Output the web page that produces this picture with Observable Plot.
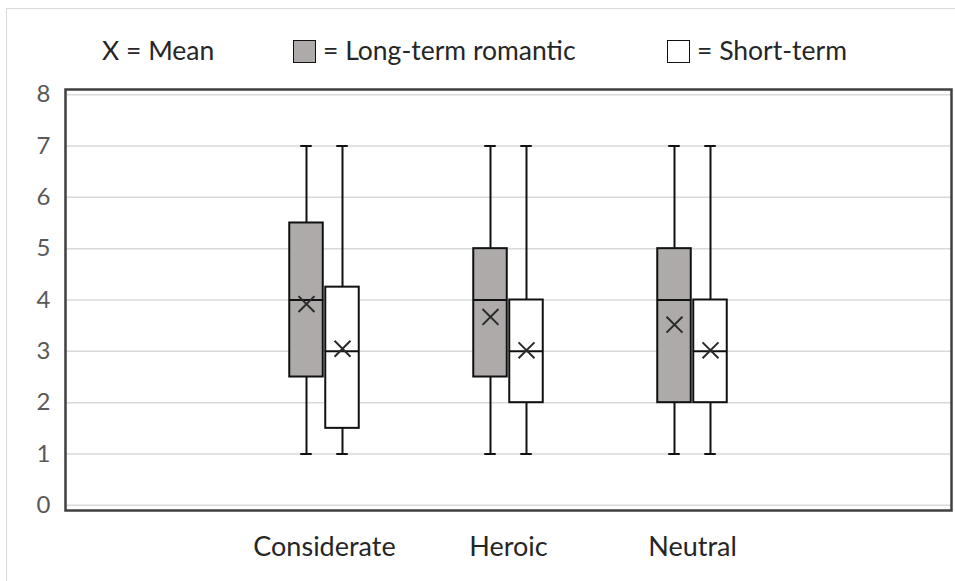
<!DOCTYPE html>
<html><head><meta charset="utf-8">
<script src="https://cdn.jsdelivr.net/npm/d3@7"></script>
<script src="https://cdn.jsdelivr.net/npm/@observablehq/plot@0.6"></script>
<style>
body{margin:0;background:#fff;font-family:Lato,"Open Sans",sans-serif;}
#wrap{position:relative;width:955px;height:581px;overflow:hidden;}
#border{position:absolute;left:6px;top:8px;width:1000px;height:1000px;border:1.5px solid #d9d9d9;box-sizing:border-box;}
#legend{position:relative;height:80px;}
.lt{position:absolute;font-size:26.5px;line-height:26px;color:#262626;white-space:nowrap;top:37px;}
.sq{position:absolute;top:40px;width:23px;height:23px;border:1.6px solid #111;box-sizing:border-box;}
#chart{position:relative;}
</style></head>
<body>
<div id="wrap">
<div id="border"></div>
<div id="legend">
  <span class="lt" style="left:102px">X = Mean</span>
  <div class="sq" style="left:293px;background:#aeaaaa"></div>
  <span class="lt" style="left:323px">= Long-term romantic</span>
  <div class="sq" style="left:667px;background:#fff"></div>
  <span class="lt" style="left:697px">= Short-term</span>
</div>
<div id="chart"></div>
</div>
<script>
const categories = ["Considerate", "Heroic", "Neutral"];
const seriesNames = ["Long-term romantic", "Short-term"];
const yTicks = [0, 1, 2, 3, 4, 5, 6, 7, 8];

const longMin    = [1, 1, 1];
const longQ1     = [2.5, 2.5, 2];
const longMedian = [4, 4, 4];
const longQ3     = [5.5, 5, 5];
const longMax    = [7, 7, 7];
const longMean   = [3.92, 3.67, 3.52];

const shortMin    = [1, 1, 1];
const shortQ1     = [1.5, 2, 2];
const shortMedian = [3, 3, 3];
const shortQ3     = [4.25, 4, 4];
const shortMax    = [7, 7, 7];
const shortMean   = [3.05, 3.02, 3.02];

const stats = {
  "Long-term romantic": {min: longMin, q1: longQ1, median: longMedian, q3: longQ3, max: longMax, mean: longMean},
  "Short-term": {min: shortMin, q1: shortQ1, median: shortMedian, q3: shortQ3, max: shortMax, mean: shortMean}
};
const fills = {"Long-term romantic": "#aeaaaa", "Short-term": "#ffffff"};
const offsets = {"Long-term romantic": -18, "Short-term": 18};

const rows = [];
for (const s of seriesNames) {
  categories.forEach((c, i) => {
    const t = stats[s];
    rows.push({category: c, series: s, min: t.min[i], q1: t.q1[i], median: t.median[i], q3: t.q3[i], max: t.max[i], mean: t.mean[i]});
  });
}

const boxInset = 75.25;
const capInset = 86.25;
const ink = "#111";
const marks = [Plot.gridY(yTicks, {stroke: "#d9d9d9", strokeOpacity: 1, strokeWidth: 1.5})];
for (const s of seriesNames) {
  const d = rows.filter(r => r.series === s);
  const dx = offsets[s];
  marks.push(
    Plot.ruleX(d, {x: "category", y1: "min", y2: "q1", dx, stroke: ink, strokeWidth: 2}),
    Plot.ruleX(d, {x: "category", y1: "q3", y2: "max", dx, stroke: ink, strokeWidth: 2}),
    Plot.tickY(d, {x: "category", y: "min", dx, insetLeft: capInset, insetRight: capInset, stroke: ink, strokeWidth: 2}),
    Plot.tickY(d, {x: "category", y: "max", dx, insetLeft: capInset, insetRight: capInset, stroke: ink, strokeWidth: 2}),
    Plot.barY(d, {x: "category", y1: "q1", y2: "q3", dx, insetLeft: boxInset, insetRight: boxInset, fill: fills[s], stroke: ink, strokeWidth: 2}),
    Plot.tickY(d, {x: "category", y: "median", dx, insetLeft: boxInset, insetRight: boxInset, stroke: ink, strokeWidth: 2}),
    Plot.dot(d, {x: "category", y: "mean", dx, symbol: "times", r: 7.3, stroke: "#2a2a2a", strokeWidth: 2})
  );
}
marks.push(
  Plot.frame({stroke: "#404040", strokeWidth: 2.5}),
  Plot.axisY(yTicks, {tickSize: 0, tickPadding: 15, fontSize: 24, fill: "#595959", tickFormat: d => String(d)}),
  Plot.axisX({tickSize: 0, tickPadding: 26, fontSize: 27, fill: "#262626"})
);

const chart = Plot.plot({
  width: 955,
  height: 501,
  marginLeft: 65,
  marginRight: 4,
  marginTop: 9,
  marginBottom: 71,
  style: {fontFamily: "Lato, 'Open Sans', sans-serif", background: "transparent", overflow: "visible"},
  x: {domain: categories, paddingInner: 0, paddingOuter: 0.898, label: null},
  y: {domain: [-0.1, 8.1], label: null},
  marks
});
document.getElementById("chart").appendChild(chart);
</script>
</body></html>
